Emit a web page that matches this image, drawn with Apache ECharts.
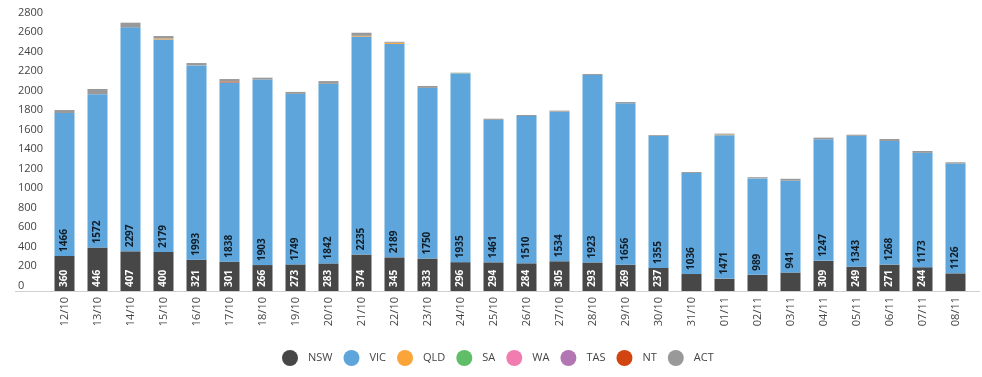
<!DOCTYPE html>
<html>
<head>
<meta charset="utf-8">
<script src="https://cdn.jsdelivr.net/npm/echarts@6/dist/echarts.min.js"></script>
<style>
  html, body { margin: 0; padding: 0; background: #fff; }
  #chart { width: 982px; height: 377px; }
</style>
</head>
<body>
<div id="chart"></div>
<script>
// dates on the x axis
const categories = ['12/10', '13/10', '14/10', '15/10', '16/10', '17/10', '18/10', '19/10', '20/10', '21/10',
  '22/10', '23/10', '24/10', '25/10', '26/10', '27/10', '28/10', '29/10', '30/10', '31/10',
  '01/11', '02/11', '03/11', '04/11', '05/11', '06/11', '07/11', '08/11']

// values per state
const nsw = [360, 446, 407, 400, 321, 301, 266, 273, 283, 374, 345, 333, 296, 294, 284, 305, 293, 269, 237, 174, 127, 166, 190, 309, 249, 271, 244, 181]
const vic = [1466, 1572, 2297, 2179, 1993, 1838, 1903, 1749, 1842, 2235, 2189, 1750, 1935, 1461, 1510, 1534, 1923, 1656, 1355, 1036, 1471, 989, 941, 1247, 1343, 1268, 1173, 1126]
const qld = [0, 0, 0, 10, 0, 0, 0, 0, 0, 8, 12, 0, 0, 0, 0, 0, 0, 0, 0, 0, 6, 0, 0, 0, 0, 0, 0, 0]
const sa = [0, 0, 0, 0, 0, 0, 0, 0, 0, 0, 0, 0, 3, 0, 0, 0, 0, 0, 0, 0, 0, 0, 0, 0, 0, 0, 0, 0]
const wa = [0, 0, 0, 0, 0, 0, 0, 0, 0, 0, 0, 0, 0, 0, 0, 0, 0, 0, 0, 0, 0, 0, 0, 0, 0, 0, 0, 0]
const tas = [0, 0, 0, 0, 0, 0, 0, 0, 0, 0, 0, 0, 0, 0, 0, 0, 0, 0, 0, 0, 0, 0, 0, 0, 0, 0, 0, 0]
const nt = [0, 0, 0, 0, 0, 10, 0, 0, 0, 0, 0, 0, 0, 0, 0, 0, 0, 0, 0, 0, 0, 0, 0, 0, 0, 0, 0, 0]
const act = [30, 54, 48, 26, 24, 25, 19, 20, 28, 32, 10, 20, 5, 12, 11, 11, 10, 13, 8, 10, 10, 12, 20, 17, 11, 20, 19, 13]

// y axis ticks
const yMax = 2800
const yStep = 200

const font = 'Open Sans'
const colors = ['#474747', '#5da5da', '#faa43a', '#60bd68', '#f17cb0', '#b276b2', '#d24410', '#999999']

let chart = echarts.init(document.getElementById('chart'))

const barLabel = (color, minShow) => ({
    show: true,
    position: 'insideBottom',
    distance: 4,
    rotate: 90,
    align: 'left',
    verticalAlign: 'middle',
    color: color,
    fontFamily: font,
    fontSize: 10,
    fontWeight: 'bold',
    formatter: p => (p.value >= minShow ? p.value : '')
})

const makeSeries = (name, data, label) => ({
    name: name,
    type: 'bar',
    stack: 'total',
    barWidth: 20,
    data: data,
    label: label || { show: false },
    emphasis: { disabled: true }
})

let option = {
    animation: false,
    color: colors,
    grid: { left: 48, right: 10, top: 18, bottom: 86 },
    legend: {
        left: 277,
        top: 345,
        icon: 'circle',
        itemWidth: 16,
        itemHeight: 16,
        itemGap: 11,
        textStyle: { color: '#444', fontFamily: font, fontSize: 11, padding: [0, 0, 0, 5] },
        data: ['NSW', 'VIC', 'QLD', 'SA', 'WA', 'TAS', 'NT', 'ACT']
    },
    xAxis: {
        type: 'category',
        data: categories,
        axisLine: { show: false },
        axisTick: { show: false },
        axisLabel: { rotate: 90, margin: 6, color: '#444', fontFamily: font, fontSize: 11, interval: 0 }
    },
    yAxis: {
        type: 'value',
        min: 0,
        max: yMax,
        interval: yStep,
        splitLine: { show: false },
        axisLine: { show: false },
        axisTick: { show: false },
        axisLabel: {
            align: 'left', verticalAlign: 'bottom', margin: 30,
            color: '#444', fontFamily: font, fontSize: 11,
            formatter: v => String(v)
        }
    },
    // baseline runs past the plot area like in the original
    graphic: [{
        type: 'line',
        shape: { x1: 15, y1: 291.5, x2: 980, y2: 291.5 },
        style: { stroke: '#d0d0d0', lineWidth: 1 },
        z: 10
    }],
    series: [
        makeSeries('NSW', nsw, barLabel('#ffffff', 200)),
        makeSeries('VIC', vic, barLabel('#111c26', 0)),
        makeSeries('QLD', qld),
        makeSeries('SA', sa),
        makeSeries('WA', wa),
        makeSeries('TAS', tas),
        makeSeries('NT', nt),
        makeSeries('ACT', act)
    ]
}

chart.setOption(option)
</script>
</body>
</html>
